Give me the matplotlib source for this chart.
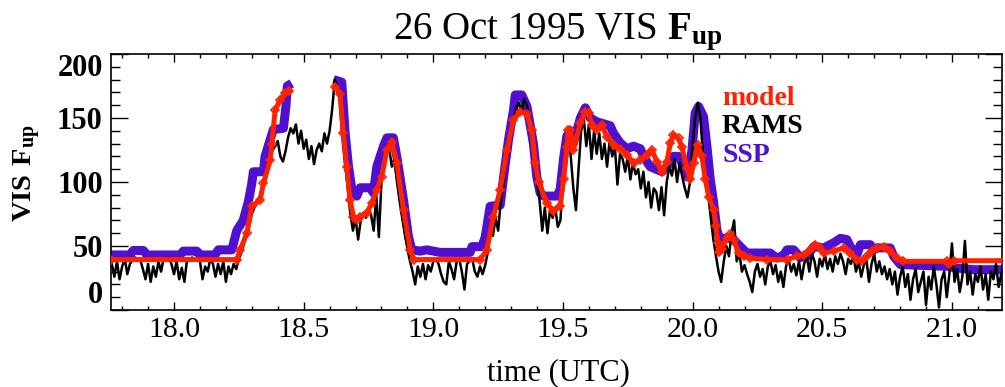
import numpy as np
import matplotlib
matplotlib.use("Agg")
import matplotlib.pyplot as plt
from matplotlib.ticker import FixedLocator, MultipleLocator

plt.rcParams['mathtext.fontset'] = 'custom'
plt.rcParams['mathtext.rm'] = 'Liberation Serif'
plt.rcParams['mathtext.bf'] = 'Liberation Serif:bold'
plt.rcParams['font.family'] = ['Liberation Serif', 'DejaVu Serif']

nan = float('nan')

# ---------------- data ----------------
title_text = r"26 Oct 1995 VIS $\mathbf{F_{up}}$"
x_label = "time (UTC)"
y_label = r"$\mathbf{VIS\ F_{up}}$"
legend_names = ["model", "RAMS", "SSP"]

xticks = [18.0, 18.5, 19.0, 19.5, 20.0, 20.5, 21.0]
xtick_labels = ["18.0", "18.5", "19.0", "19.5", "20.0", "20.5", "21.0"]
yticks = [0, 50, 100, 150, 200]
ytick_labels = ["0", "50", "100", "150", "200"]

# SSP observations (time UTC, VIS F_up)
ssp_points = [
    (17.757, 43), (17.830, 43), (17.843, 46.5), (17.882, 46.5), (17.895, 43),
    (18.023, 43), (18.036, 46), (18.088, 46), (18.100, 43), (18.158, 43),
    (18.171, 47), (18.223, 47), (18.242, 62), (18.267, 70), (18.287, 85),
    (18.300, 99), (18.306, 108), (18.345, 108), (18.351, 120), (18.383, 141),
    (18.422, 142), (18.432, 160), (18.437, 175), (18.454, 177), (nan, nan),
    (18.615, 180), (18.647, 178), (18.660, 138), (18.673, 112), (18.686, 94),
    (18.705, 89), (18.718, 95.5), (18.756, 95.5), (18.769, 91.5), (18.782, 112),
    (18.808, 128), (18.821, 134.5), (18.846, 134.5), (18.859, 120), (18.885, 86),
    (18.904, 57.5), (18.917, 47), (18.949, 46), (18.975, 47), (19.026, 45),
    (19.142, 45), (19.149, 49.5), (19.187, 49.5), (19.200, 57), (19.219, 81),
    (19.258, 82), (19.271, 104), (19.290, 133), (19.309, 156), (19.316, 168),
    (19.341, 168), (19.361, 159), (19.386, 130), (19.399, 104), (19.412, 91.5),
    (19.425, 89), (19.477, 89), (19.489, 94), (19.502, 118), (19.515, 136),
    (19.528, 140), (19.540, 130), (19.567, 150), (19.586, 158), (19.605, 150),
    (19.631, 147), (19.682, 144), (19.695, 138), (19.721, 130.5), (19.747, 126),
    (19.772, 128), (19.798, 126), (19.811, 120), (19.836, 112), (19.882, 108),
    (19.901, 112), (19.926, 120), (19.946, 120), (19.965, 112), (19.978, 104),
    (19.997, 124), (20.010, 154), (20.023, 159), (20.042, 151), (20.055, 128),
    (20.068, 102), (20.081, 84), (20.094, 62), (20.106, 55), (20.132, 56.5),
    (20.158, 55), (20.184, 49.5), (20.209, 44.5), (20.299, 44.5), (20.325, 40.5),
    (20.351, 43), (20.364, 47), (20.390, 47), (20.415, 41), (20.441, 42),
    (20.467, 49.5), (20.505, 48.5), (20.544, 52.5), (20.570, 56), (20.595, 55),
    (20.608, 49.5), (20.634, 43.5), (20.647, 51), (20.685, 51), (20.698, 47),
    (20.711, 48.5), (20.762, 48.5), (20.775, 42), (20.801, 35.5), (20.994, 34),
    (21.007, 33), (21.084, 31.5), (21.200, 31.5),
]

# model (time UTC, VIS F_up)
model_points = [
    (17.757, 39.4), (18.242, 39.4), (18.255, 47), (18.281, 60), (18.300, 81),
    (18.332, 86), (18.345, 99), (18.371, 117), (18.377, 130), (18.390, 156),
    (18.409, 164), (18.428, 169.5), (18.445, 171), (nan, nan),
    (18.621, 174.5), (18.640, 169), (18.653, 138), (18.666, 112), (18.679, 86),
    (18.692, 73), (18.705, 70.5), (18.718, 73), (18.744, 76), (18.763, 83.5),
    (18.782, 94), (18.801, 104), (18.821, 125), (18.840, 131.5), (18.859, 115),
    (18.885, 78), (18.911, 47), (18.924, 39.4), (19.181, 39.4), (19.206, 47),
    (19.232, 73), (19.258, 94), (19.284, 125), (19.309, 148.5), (19.335, 155),
    (19.361, 153), (19.380, 140.5), (19.393, 115), (19.406, 100), (19.438, 83.5),
    (19.463, 77), (19.489, 81), (19.502, 102), (19.515, 127.5), (19.521, 140.5),
    (19.528, 140.5), (19.540, 125), (19.567, 146), (19.586, 155), (19.599, 154),
    (19.612, 144.5), (19.631, 141), (19.650, 144.5), (19.669, 135.5), (19.695, 129),
    (19.721, 126), (19.747, 121), (19.772, 115), (19.798, 117), (19.824, 121),
    (19.843, 125), (19.862, 116), (19.882, 108), (19.901, 116), (19.914, 130.5),
    (19.926, 137), (19.946, 134), (19.959, 127), (19.978, 111), (19.991, 102),
    (20.004, 115), (20.019, 129), (20.036, 120), (20.049, 102), (20.062, 88.5),
    (20.081, 78), (20.090, 66), (20.097, 52), (20.103, 45), (20.113, 48),
    (20.132, 56.5), (20.145, 59), (20.158, 55), (20.177, 44.5), (20.197, 42),
    (20.222, 40.5), (20.287, 39.4), (20.364, 39.4), (20.402, 42), (20.428, 43),
    (20.454, 47), (20.473, 51), (20.486, 49), (20.505, 44.5), (20.544, 46),
    (20.582, 48.5), (20.608, 44.5), (20.634, 39.4), (20.653, 38), (20.673, 42),
    (20.692, 46), (20.711, 48.5), (20.737, 49.5), (20.762, 46), (20.788, 40.5),
    (20.813, 38), (20.981, 38), (20.987, 36), (21.007, 38.5), (21.200, 38.5),
]

# RAMS record, one value every 0.01 h starting at 17.76 UTC
rams_t0 = 17.76
rams_dt = 0.01
rams_values = [
    36, 26, 38, 24, 34, 40, 28, 36, 39, 41,        # 17.76
    40, 39, 32, 24, 36, 22, 34, 26, 38, 30,        # 17.86
    40, 39, 41, 36, 28, 38, 24, 33, 22, 39,        # 17.96
    40, 41, 39, 40, 38, 24, 34, 30, 40, 36,        # 18.06
    26, 36, 28, 38, 22, 34, 28, 36, 32, 40,        # 18.16
    45, 52, 58, 66, 75, 80, 84, 88, 95, 105,       # 18.26
    112, 118, 125, 128, 132, 120, 116, 124, 135, 142,  # 18.36
    138, 145, 130, 140, 126, 133, 118, 128, 114, 125,  # 18.46
    130, 124, 138, 130, 140, 157, 180, 175, 165, 140,  # 18.56
    115, 95, 75, 62, 72, 55, 70, 76, 72, 80,       # 18.66
    74, 62, 90, 57, 100, 115, 122, 126, 112, 118,  # 18.76
    100, 85, 72, 60, 48, 38, 30, 20, 34, 26,       # 18.86
    36, 24, 35, 30, 38, 40, 36, 28, 22, 20,        # 18.96
    38, 32, 24, 38, 40, 30, 16, 36, 38, 40,        # 19.06
    30, 26, 34, 28, 35, 45, 60, 58, 72, 62,        # 19.16
    85, 98, 115, 128, 140, 150, 158, 162, 155, 165,  # 19.26
    160, 150, 135, 118, 100, 85, 62, 80, 60, 78,   # 19.36
    72, 80, 65, 70, 100, 125, 138, 120, 95, 78,    # 19.46
    110, 140, 150, 128, 145, 118, 140, 122, 138, 118,  # 19.56
    130, 112, 132, 120, 128, 98, 122, 118, 108, 120,   # 19.66
    102, 115, 106, 110, 95, 108, 88, 100, 80, 95,  # 19.76
    92, 78, 96, 74, 100, 112, 105, 118, 100, 115,  # 19.86
    104, 95, 88, 100, 130, 150, 162, 150, 120, 105,  # 19.96
    90, 72, 55, 42, 30, 22, 38, 50, 42, 60,        # 20.06
    70, 38, 45, 30, 35, 28, 22, 14, 30, 36,        # 20.16
    26, 32, 20, 34, 38, 28, 35, 22, 30, 18,        # 20.26
    34, 40, 30, 36, 27, 38, 24, 36, 42, 30,        # 20.36
    44, 38, 26, 40, 34, 44, 32, 40, 30, 42,        # 20.46
    36, 44, 38, 28, 40, 36, 42, 30, 38, 26,        # 20.56
    35, 40, 22, 36, 44, 30, 38, 28, 34, 24,        # 20.66
    32, 20, 30, 12, 26, 34, 18, 28, 8, 24,         # 20.76
    32, 14, 22, 30, 4, 26, 16, 34, 20, 2,          # 20.86
    24, 30, 10, 28, 52, 22, 32, 14, 26, 54,        # 20.96
    20, 30, 12, 28, 22, 34, 16, 28, 8, 30,         # 21.06
    24, 36, 18, 28, 32,                            # 21.16
]

# ---------------- styles ----------------
c_model = '#FF2200'
c_rams = '#000000'
c_ssp = '#5010D0'

fig = plt.figure(figsize=(10.05, 3.87), dpi=100)
W, H = 1005.0, 387.0
ax = fig.add_axes([111 / W, 1 - 310 / H, (1002 - 111) / W, (310 - 54) / H])

ssp_t, ssp_v = zip(*ssp_points)
mod_t, mod_v = zip(*model_points)
rams_t = rams_t0 + rams_dt * np.arange(len(rams_values))

ax.plot(ssp_t, ssp_v, color=c_ssp, lw=6.5, solid_joinstyle='round',
        solid_capstyle='butt', zorder=2)
ax.plot(rams_t, rams_values, color=c_rams, lw=1.8, zorder=3)
ax.plot(mod_t, mod_v, color=c_model, lw=3.6, marker='D', ms=4.5, mfc='none',
        mec=c_model, mew=1.2, zorder=4)

ax.set_xlim(17.757, 21.193)
ax.set_ylim(0, 200)

ax.xaxis.set_major_locator(FixedLocator(xticks))
ax.xaxis.set_minor_locator(MultipleLocator(0.1))
ax.yaxis.set_major_locator(FixedLocator(yticks))
ax.yaxis.set_minor_locator(MultipleLocator(10))
ax.set_xticklabels(xtick_labels, fontsize=21.5)
ax.set_yticklabels(ytick_labels, fontsize=22, fontweight='bold')

ax.tick_params(which='both', direction='in', top=True, right=True, color='k')
ax.tick_params(axis='x', which='major', length=5.8, width=1.0, pad=5)
ax.tick_params(axis='x', which='minor', length=2.9, width=1.0)
ax.tick_params(axis='y', which='major', length=12, width=1.0, pad=6)
ax.tick_params(axis='y', which='minor', length=6.3, width=1.0)
for s in ax.spines.values():
    s.set_linewidth(1.2)

ylabs = ax.get_yticklabels()
ylabs[0].set_va('bottom')
ylabs[-1].set_va('top')

fig.text(558 / W, 1 - 39 / H, title_text, ha='center', va='baseline', fontsize=28)
fig.text(558 / W, 1 - 380 / H, x_label, ha='center', va='baseline', fontsize=22)
fig.text(27 / W, 1 - 173 / H, y_label, ha='center', va='center', rotation=90,
         fontsize=20.5)

leg_colors = [c_model, c_rams, c_ssp]
leg_base = [105, 133, 162]
for name, col, yb in zip(legend_names, leg_colors, leg_base):
    fig.text(722 / W, 1 - yb / H, name, color=col, ha='left', va='baseline',
             fontsize=20, fontweight='bold')

fig.savefig('out.png', dpi=100)
